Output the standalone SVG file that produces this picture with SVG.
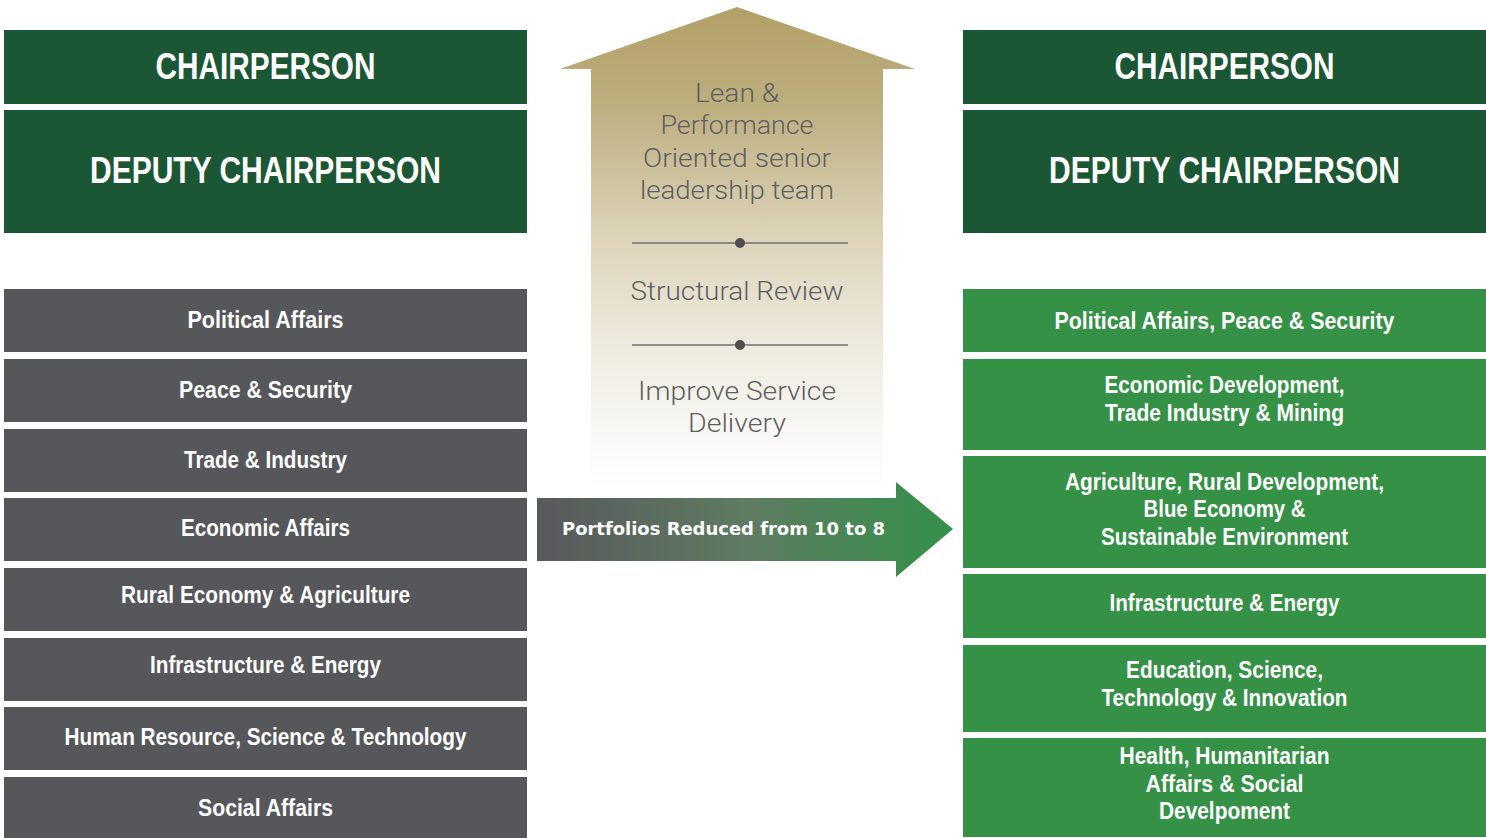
<svg xmlns="http://www.w3.org/2000/svg" width="1486" height="838" viewBox="0 0 1486 838">
<style>
.dg{fill:#1b5734}
.gr{fill:#56575b}
.gn{fill:#359146}
.w{fill:#ffffff;font-family:"Liberation Sans",Arial,sans-serif;font-weight:bold;text-anchor:middle}
.h{font-size:37px}
.r{font-size:23px}
.g{fill:#5e5f62;font-family:Roboto,"Liberation Sans",sans-serif;font-weight:300;font-size:26px;text-anchor:middle}
.div{stroke:#707174;stroke-width:1.3}
.dot{fill:#4d4e52}
</style>
<defs>
<linearGradient id="upg" gradientUnits="userSpaceOnUse" x1="0" y1="7" x2="0" y2="492">
<stop offset="0" stop-color="#b2a068"/>
<stop offset="0.2" stop-color="#bdae7e"/>
<stop offset="0.48" stop-color="#ddd4ba"/>
<stop offset="0.7" stop-color="#eeeadf"/>
<stop offset="0.88" stop-color="#f9f8f5"/>
<stop offset="1" stop-color="#ffffff"/>
</linearGradient>
<linearGradient id="rg" gradientUnits="userSpaceOnUse" x1="537" y1="0" x2="953" y2="0">
<stop offset="0" stop-color="#58595c"/>
<stop offset="0.5" stop-color="#5f7b62"/>
<stop offset="1" stop-color="#34914a"/>
</linearGradient>
</defs>

<g id="connectors">
<g id="up-arrow">
<polygon points="737,7 915,69 883,69 883,492 591,492 591,69 560,69" fill="url(#upg)"/>
<text class="g" x="737" y="102" textLength="84" lengthAdjust="spacingAndGlyphs">Lean &amp;</text>
<text class="g" x="737" y="134" textLength="153" lengthAdjust="spacingAndGlyphs">Performance</text>
<text class="g" x="737" y="167" textLength="188" lengthAdjust="spacingAndGlyphs">Oriented senior</text>
<text class="g" x="737" y="199" textLength="194" lengthAdjust="spacingAndGlyphs">leadership team</text>
<line class="div" x1="632" y1="243" x2="848" y2="243"/>
<circle class="dot" cx="740" cy="243" r="5"/>
<text class="g" x="737" y="300" textLength="213" lengthAdjust="spacingAndGlyphs">Structural Review</text>
<line class="div" x1="632" y1="345" x2="848" y2="345"/>
<circle class="dot" cx="740" cy="345" r="5"/>
<text class="g" x="737" y="400" textLength="198" lengthAdjust="spacingAndGlyphs">Improve Service</text>
<text class="g" x="737" y="432" textLength="98" lengthAdjust="spacingAndGlyphs">Delivery</text>
</g>
<g id="right-arrow">
<polygon points="537,498 896,498 896,482 953,529 896,577 896,561 537,561" fill="url(#rg)"/>
<text x="562" y="535" textLength="323" lengthAdjust="spacingAndGlyphs" style="fill:#ffffff;font-family:'DejaVu Sans','Liberation Sans',sans-serif;font-weight:bold;font-size:18.5px">Portfolios Reduced from 10 to 8</text>
</g>
</g>

<g id="left-chair"><rect class="dg" x="4" y="30" width="523" height="74"/><text class="w h" x="265.5" y="79" textLength="220" lengthAdjust="spacingAndGlyphs">CHAIRPERSON</text></g>
<g id="left-deputy"><rect class="dg" x="4" y="110" width="523" height="123"/><text class="w h" x="265.5" y="183" textLength="351" lengthAdjust="spacingAndGlyphs">DEPUTY CHAIRPERSON</text></g>

<g id="left-political"><rect class="gr" x="4" y="289" width="523" height="63"/><text class="w r" x="265.5" y="328" textLength="156" lengthAdjust="spacingAndGlyphs">Political Affairs</text></g>
<g id="left-peace"><rect class="gr" x="4" y="359" width="523" height="63"/><text class="w r" x="265.5" y="398" textLength="173" lengthAdjust="spacingAndGlyphs">Peace &amp; Security</text></g>
<g id="left-trade"><rect class="gr" x="4" y="429" width="523" height="63"/><text class="w r" x="265.5" y="468" textLength="163" lengthAdjust="spacingAndGlyphs">Trade &amp; Industry</text></g>
<g id="left-economic"><rect class="gr" x="4" y="498" width="523" height="63"/><text class="w r" x="265.5" y="536" textLength="169" lengthAdjust="spacingAndGlyphs">Economic Affairs</text></g>
<g id="left-rural"><rect class="gr" x="4" y="568" width="523" height="63"/><text class="w r" x="265.5" y="603" textLength="289" lengthAdjust="spacingAndGlyphs">Rural Economy &amp; Agriculture</text></g>
<g id="left-infra"><rect class="gr" x="4" y="638" width="523" height="63"/><text class="w r" x="265.5" y="673" textLength="231" lengthAdjust="spacingAndGlyphs">Infrastructure &amp; Energy</text></g>
<g id="left-human"><rect class="gr" x="4" y="707" width="523" height="63"/><text class="w r" x="265.5" y="745" textLength="402" lengthAdjust="spacingAndGlyphs">Human Resource, Science &amp; Technology</text></g>
<g id="left-social"><rect class="gr" x="4" y="777" width="523" height="61"/><text class="w r" x="265.5" y="816" textLength="135" lengthAdjust="spacingAndGlyphs">Social Affairs</text></g>

<g id="right-chair"><rect class="dg" x="963" y="30" width="523" height="74"/><text class="w h" x="1224.5" y="79" textLength="220" lengthAdjust="spacingAndGlyphs">CHAIRPERSON</text></g>
<g id="right-deputy"><rect class="dg" x="963" y="110" width="523" height="123"/><text class="w h" x="1224.5" y="183" textLength="351" lengthAdjust="spacingAndGlyphs">DEPUTY CHAIRPERSON</text></g>

<g id="right-political"><rect class="gn" x="963" y="289" width="523" height="63"/><text class="w r" x="1224.5" y="329" textLength="340" lengthAdjust="spacingAndGlyphs">Political Affairs, Peace &amp; Security</text></g>
<g id="right-economic"><rect class="gn" x="963" y="359" width="523" height="91"/>
<text class="w r" x="1224.5" y="393" textLength="240" lengthAdjust="spacingAndGlyphs">Economic Development,</text>
<text class="w r" x="1224.5" y="421" textLength="239" lengthAdjust="spacingAndGlyphs">Trade Industry &amp; Mining</text></g>
<g id="right-agriculture"><rect class="gn" x="963" y="456" width="523" height="112"/>
<text class="w r" x="1224.5" y="490" textLength="319" lengthAdjust="spacingAndGlyphs">Agriculture, Rural Development,</text>
<text class="w r" x="1224.5" y="517" textLength="162" lengthAdjust="spacingAndGlyphs">Blue Economy &amp;</text>
<text class="w r" x="1224.5" y="545" textLength="247" lengthAdjust="spacingAndGlyphs">Sustainable Environment</text></g>
<g id="right-infra"><rect class="gn" x="963" y="574" width="523" height="64"/><text class="w r" x="1224.5" y="611" textLength="230" lengthAdjust="spacingAndGlyphs">Infrastructure &amp; Energy</text></g>
<g id="right-education"><rect class="gn" x="963" y="645" width="523" height="87"/>
<text class="w r" x="1224.5" y="678" textLength="197" lengthAdjust="spacingAndGlyphs">Education, Science,</text>
<text class="w r" x="1224.5" y="706" textLength="246" lengthAdjust="spacingAndGlyphs">Technology &amp; Innovation</text></g>
<g id="right-health"><rect class="gn" x="963" y="738" width="523" height="99"/>
<text class="w r" x="1224.5" y="764" textLength="210" lengthAdjust="spacingAndGlyphs">Health, Humanitarian</text>
<text class="w r" x="1224.5" y="792" textLength="158" lengthAdjust="spacingAndGlyphs">Affairs &amp; Social</text>
<text class="w r" x="1224.5" y="819" textLength="131" lengthAdjust="spacingAndGlyphs">Develpoment</text></g>
</svg>
